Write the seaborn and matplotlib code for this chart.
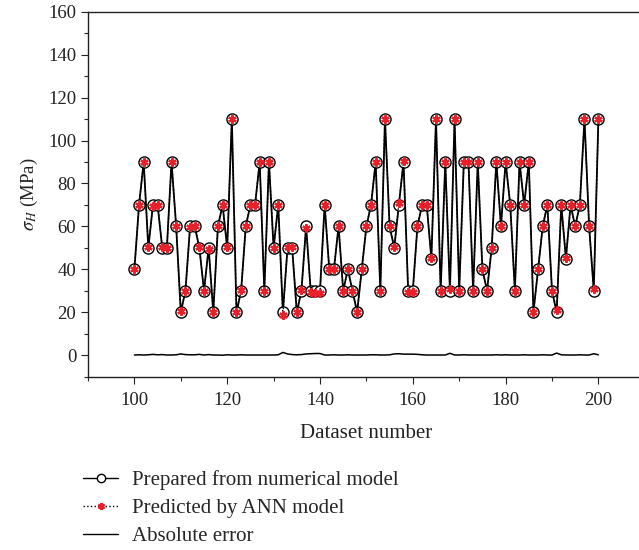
import numpy as np
import pandas as pd
import matplotlib
matplotlib.use("Agg")
import matplotlib.pyplot as plt
from matplotlib.lines import Line2D
from matplotlib.ticker import MultipleLocator
import seaborn as sns

# ---- data ----
dataset_number = list(range(100, 201))

numerical = [
    40, 70, 90, 50, 70, 70, 50, 50, 90, 60, 20, 30, 60, 60, 50, 30, 50, 20, 60, 70, 50,
    110, 20, 30, 60, 70, 70, 90, 30, 90, 50, 70, 20, 50, 50, 20, 30, 60, 30, 30, 30,
    70, 40, 40, 60, 30, 40, 30, 20, 40, 60, 70, 90, 30, 110, 60, 50, 70, 90, 30, 30,
    60, 70, 70, 45, 110, 30, 90, 30, 110, 30, 90, 90, 30, 90, 40, 30, 50, 90, 60, 90,
    70, 30, 90, 70, 90, 20, 40, 60, 70, 30, 20, 70, 45, 70, 60, 70, 110, 60, 30, 110,
]

predicted = [
    40.1, 69.8, 90.1, 50.2, 69.6, 70.2, 50.3, 50.1, 90.1, 60.2, 20.6, 29.7, 59.8, 60.2, 50.4, 30.1, 49.7, 20.1, 60.1, 70.0, 50.2,
    110.1, 20.1, 30.2, 60.1, 70.1, 69.9, 90.1, 30.1, 90.1, 50.1, 70.2, 18.7, 50.6, 50.3, 20.2, 30.3, 59.4, 29.3, 29.2, 29.2,
    70.1, 40.1, 40.2, 60.1, 30.1, 40.2, 30.1, 20.1, 40.1, 60.1, 70.2, 90.2, 30.1, 110.1, 60.2, 50.6, 70.7, 90.5, 29.5, 29.5,
    60.4, 70.2, 70.1, 45.1, 110.1, 30.1, 90.1, 30.9, 110.1, 30.1, 90.2, 90.1, 30.1, 90.1, 40.1, 30.1, 50.1, 90.2, 60.1, 90.2,
    70.1, 30.1, 90.1, 70.2, 90.1, 20.1, 40.1, 60.2, 70.1, 30.1, 21.0, 70.2, 45.1, 70.1, 60.1, 70.2, 110.1, 60.1, 30.7, 110.2,
]

abs_error = [abs(p - n) for p, n in zip(predicted, numerical)]

legend_labels = ["Prepared from numerical model", "Predicted by ANN model", "Absolute error"]

df = pd.DataFrame({
    "Dataset number": dataset_number,
    "numerical": numerical,
    "predicted": predicted,
    "error": abs_error,
})

# ---- style ----
sns.set_style("ticks")
plt.rcParams["font.family"] = ["Liberation Serif", "DejaVu Serif"]
plt.rcParams["mathtext.fontset"] = "stix"
fs_tick = 13.5
fs_text = 15

fig = plt.figure(figsize=(6.39, 5.50), dpi=100)
ax = fig.add_axes([88 / 639, (550 - 376.7) / 550, 556.8 / 639, 365 / 550])

sns.lineplot(data=df, x="Dataset number", y="numerical", ax=ax, color="black",
             linewidth=1.3, marker="o", markersize=8, markerfacecolor="white",
             markeredgecolor="black", markeredgewidth=1.0, zorder=3)
sns.lineplot(data=df, x="Dataset number", y="predicted", ax=ax, color="black",
             linewidth=1.0, linestyle=":", marker=(6, 2, 0), markersize=6,
             markeredgecolor="#e8202a", markerfacecolor="#e8202a",
             markeredgewidth=1.6, zorder=4)
sns.lineplot(data=df, x="Dataset number", y="error", ax=ax, color="black",
             linewidth=1.1, zorder=2)

ax.set_xlim(90, 210)
ax.set_ylim(-10, 160)
ax.xaxis.set_major_locator(MultipleLocator(20))
ax.xaxis.set_minor_locator(MultipleLocator(10))
ax.yaxis.set_major_locator(MultipleLocator(20))
ax.yaxis.set_minor_locator(MultipleLocator(10))
ax.tick_params(which="major", direction="out", length=5, width=0.8, labelsize=fs_tick, colors="#222222")
ax.tick_params(which="minor", direction="out", length=3, width=0.8)
ax.tick_params(axis="x", pad=6)

for side in ["left", "bottom", "top"]:
    ax.spines[side].set_visible(True)
    ax.spines[side].set_linewidth(1.0)
    ax.spines[side].set_color("#222222")
ax.spines["right"].set_visible(False)

ax.set_xlabel("Dataset number", fontsize=fs_text, color="#222222", labelpad=11)
ax.set_ylabel(r"$\sigma_H$ (MPa)", fontsize=fs_tick, color="#222222", labelpad=6)

handles = [
    Line2D([], [], color="black", linewidth=1.0, marker="o", markersize=6,
           markerfacecolor="white", markeredgecolor="black"),
    Line2D([], [], color="black", linewidth=1.0, linestyle=":", marker=(6, 2, 0),
           markersize=5, markeredgecolor="#e8202a", markeredgewidth=1.6),
    Line2D([], [], color="black", linewidth=1.0),
]
fig.legend(handles, legend_labels, loc="upper left",
           bbox_to_anchor=(75 / 639, 1 - 462 / 550), frameon=False,
           fontsize=fs_text, handlelength=1.65, handletextpad=0.67, labelspacing=0.4,
           borderaxespad=0)

fig.savefig("out.png", dpi=100)
